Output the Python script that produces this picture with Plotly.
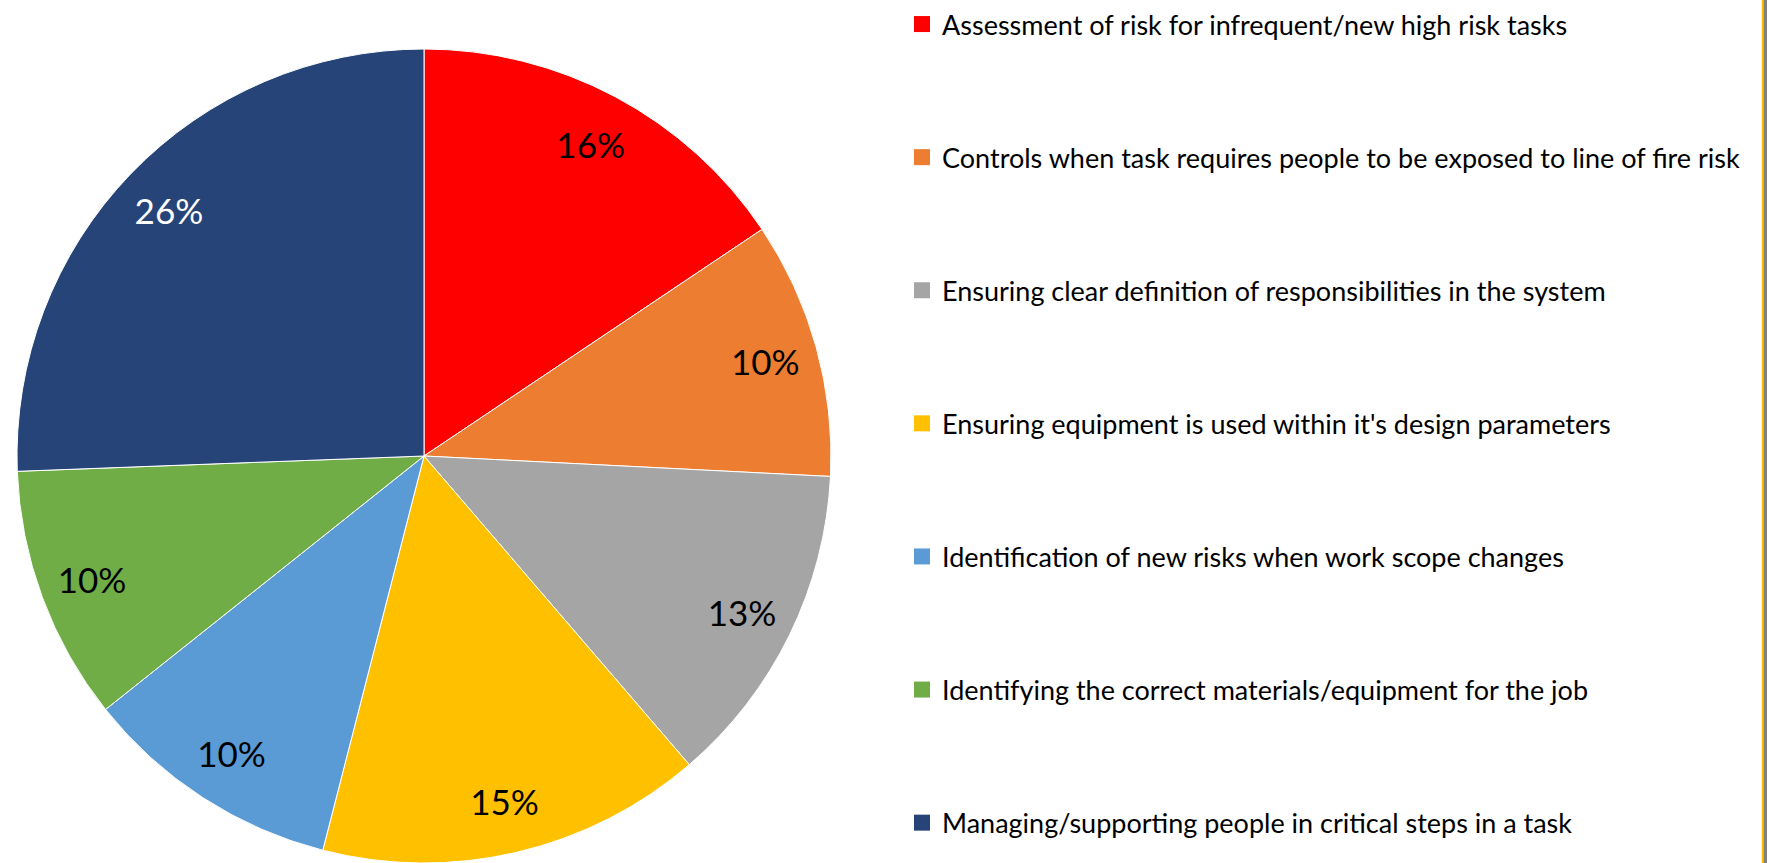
import plotly.graph_objects as go

categories = [
    "Assessment of risk for infrequent/new high risk tasks",
    "Controls when task requires people to be exposed to line of fire risk",
    "Ensuring clear definition of responsibilities in the system",
    "Ensuring equipment is used within it's design parameters",
    "Identification of new risks when work scope changes",
    "Identifying the correct materials/equipment for the job",
    "Managing/supporting people in critical steps in a task",
]
values = [15.6, 10.2, 12.9, 15.3, 10.3, 10.1, 25.6]
colors = ["#FF0000", "#ED7D31", "#A5A5A5", "#FFC000", "#5B9BD5", "#70AD47", "#264478"]
text_colors = ["#000000", "#000000", "#000000", "#000000", "#000000", "#000000", "#FFFFFF"]

W, H = 1767, 863
FONT = "Lato, 'Open Sans', sans-serif"
pie_domain = dict(x=[17 / W, 831 / W], y=[0, 814 / H])

fig = go.Figure()
# coloured slices
fig.add_trace(go.Pie(
    labels=categories, values=values, sort=False, direction="clockwise", rotation=0,
    marker=dict(colors=colors, line=dict(color="#FFFFFF", width=1)),
    textinfo="none", showlegend=False, hoverinfo="label+percent",
    domain=pie_domain,
))
# transparent ring carrying the percentage labels near the outer edge
fig.add_trace(go.Pie(
    labels=categories, values=values, sort=False, direction="clockwise", rotation=0,
    hole=0.74,
    marker=dict(colors=["rgba(0,0,0,0)"] * len(values), line=dict(width=0)),
    texttemplate="%{percent:.0%}", textposition="inside",
    insidetextorientation="horizontal",
    textfont=dict(family=FONT, size=35, color=text_colors),
    showlegend=False, hoverinfo="skip",
    domain=pie_domain,
))

for i, (cat, col) in enumerate(zip(categories, colors)):
    fig.add_trace(go.Scatter(
        x=[None], y=[None], mode="markers",
        marker=dict(symbol="square", size=16, color=col),
        name=cat, legendgroup=f"g{i}", showlegend=True,
    ))

fig.update_layout(
    width=W, height=H,
    margin=dict(l=0, r=0, t=0, b=0),
    paper_bgcolor="#FFFFFF",
    plot_bgcolor="#FFFFFF",
    xaxis=dict(visible=False),
    yaxis=dict(visible=False),
    legend=dict(
        x=902 / W, xanchor="left", y=(H - 413.5) / H, yanchor="middle",
        font=dict(family=FONT, size=27, color="#000000"),
        traceorder="grouped", tracegroupgap=95,
        bgcolor="rgba(0,0,0,0)", itemclick=False, itemdoubleclick=False,
    ),
    shapes=[
        dict(type="rect", xref="paper", yref="paper", x0=1763.3 / W, x1=1.0, y0=0, y1=1,
             fillcolor="#808080", line=dict(width=0)),
        dict(type="rect", xref="paper", yref="paper", x0=1761.7 / W, x1=1763.3 / W, y0=0, y1=1,
             fillcolor="#FFC000", line=dict(width=0)),
    ],
)

fig.write_html(
    "out.html",
    config={"displayModeBar": False},
    post_script="document.body.style.margin='0';document.body.style.overflow='hidden';",
)
